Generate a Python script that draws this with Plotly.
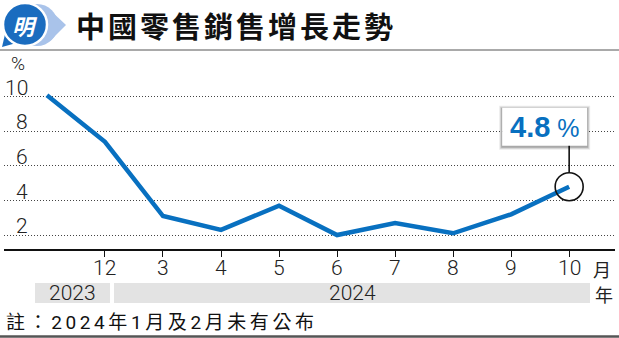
import plotly.graph_objects as go

# ---- data ----
categories = ["2023-11", "2023-12", "2024-03", "2024-04", "2024-05",
              "2024-06", "2024-07", "2024-08", "2024-09", "2024-10"]
values = [10.1, 7.4, 3.1, 2.3, 3.7, 2.0, 2.7, 2.1, 3.2, 4.8]
tick_cats = categories[1:]
tick_labels = ["12", "3", "4", "5", "6", "7", "8", "9", "10"]
y_ticks = [2, 4, 6, 8, 10]
years = ["2023", "2024"]
title = "中國零售銷售增長走勢"
note = "註：2024年1月及2月未有公布"

W, H = 619, 338
L, R, T, B = 4, 4, 60, 89
PW = W - L - R
PH = H - T - B
NUM_FONT = "Roboto, Liberation Sans, sans-serif"
CJK_FONT = "Noto Sans CJK TC, Noto Sans CJK SC, sans-serif"
MIX_FONT = "Roboto, Noto Sans CJK TC, sans-serif"
BLUE = "#0870c0"


def px(x):
    return (x - L) / PW


def py(y):
    return (H - B - y) / PH


def numfont(size, color="#222"):
    return dict(family=NUM_FONT, size=size, color=color, weight=300)


fig = go.Figure()
fig.add_trace(go.Scatter(x=categories, y=values, mode="lines",
                         line=dict(color=BLUE, width=4.5), hoverinfo="skip"))

shapes = []
annotations = []

# header / footer rules
shapes.append(dict(type="line", xref="paper", yref="paper", x0=px(0), x1=px(W),
                   y0=py(50), y1=py(50), line=dict(color="#555", width=1)))
shapes.append(dict(type="line", xref="paper", yref="paper", x0=px(0), x1=px(W),
                   y0=py(336.5), y1=py(336.5), line=dict(color="#555", width=2.5)))

# logo
shapes.append(dict(type="path", xref="paper", yref="paper",
                   path="M {} {} L {} {} L {} {} L {} {} L {} {} Z".format(
                       px(30), py(5), px(50), py(10), px(66), py(25), px(50), py(41), px(30), py(45)),
                   fillcolor="#a9c3ea", line=dict(width=0)))
shapes.append(dict(type="circle", xref="paper", yref="paper",
                   x0=px(16), x1=px(58), y0=py(4), y1=py(46),
                   fillcolor="#a9c3ea", line=dict(width=0)))
shapes.append(dict(type="path", xref="paper", yref="paper",
                   path="M {} {} L {} {} L {} {} Z".format(px(6), py(30), px(2), py(47), px(20), py(42)),
                   fillcolor="#1a6cbf", line=dict(width=0)))
shapes.append(dict(type="circle", xref="paper", yref="paper",
                   x0=px(3), x1=px(47), y0=py(3), y1=py(46),
                   fillcolor="#1a6cbf", line=dict(color="white", width=2.5)))
annotations.append(dict(text="<i><b>明</b></i>", xref="paper", yref="paper",
                        x=px(25), y=py(25), showarrow=False, xanchor="center", yanchor="middle",
                        font=dict(family=CJK_FONT, size=22, color="white")))

# title
annotations.append(dict(text="<b><span style='letter-spacing:3px'>" + title + "</span></b>",
                        xref="paper", yref="paper",
                        x=px(74), y=py(25), showarrow=False, xanchor="left", yanchor="middle",
                        font=dict(family=CJK_FONT, size=29, color="#111")))

# y tick labels + unit
for v in y_ticks:
    annotations.append(dict(text=str(v), xref="paper", yref="y", x=px(30), y=v,
                            showarrow=False, xanchor="right", yanchor="middle", yshift=9,
                            font=numfont(21)))
annotations.append(dict(text="%", xref="paper", yref="paper", x=px(18), y=py(63),
                        showarrow=False, xanchor="center", yanchor="middle",
                        font=numfont(19)))

# x tick labels (placed under the axis ticks)
for c, t in zip(tick_cats, tick_labels):
    annotations.append(dict(text=t, xref="x", yref="paper", x=c, y=py(268),
                            showarrow=False, xanchor="center", yanchor="middle",
                            font=numfont(21)))

# unit labels 月 / 年
annotations.append(dict(text="月", xref="paper", yref="paper", x=px(602), y=py(269),
                        showarrow=False, xanchor="center", yanchor="middle",
                        font=dict(family=CJK_FONT, size=18, color="#222")))
annotations.append(dict(text="年", xref="paper", yref="paper", x=px(604), y=py(294),
                        showarrow=False, xanchor="center", yanchor="middle",
                        font=dict(family=CJK_FONT, size=18, color="#222")))

# year bands
bands = [(35, 110), (114, 590)]
for (x0, x1), yr in zip(bands, years):
    shapes.append(dict(type="rect", xref="paper", yref="paper", x0=px(x0), x1=px(x1),
                       y0=py(303), y1=py(283), fillcolor="#e3e3e3", line=dict(width=0)))
    annotations.append(dict(text=yr, xref="paper", yref="paper", x=px((x0 + x1) / 2), y=py(293),
                            showarrow=False, xanchor="center", yanchor="middle",
                            font=numfont(21)))

# footnote
annotations.append(dict(text="<span style='letter-spacing:3.6px'>" + note + "</span>",
                        xref="paper", yref="paper", x=px(4), y=py(322),
                        showarrow=False, xanchor="left", yanchor="middle",
                        font=dict(family=MIX_FONT, size=19, color="#111")))

# callout for the last value
xc, yc = categories[-1], values[-1]
shapes.append(dict(type="circle", xref="x", yref="y", xsizemode="pixel", ysizemode="pixel",
                   xanchor=xc, yanchor=yc, x0=-14, x1=14, y0=-14, y1=14,
                   line=dict(color="#111", width=1.6), fillcolor="rgba(0,0,0,0)"))
shapes.append(dict(type="line", xref="x", yref="y", xsizemode="pixel", ysizemode="pixel",
                   xanchor=xc, yanchor=yc, x0=0, x1=0, y0=14, y1=42,
                   line=dict(color="#111", width=1.6)))
for d, a in [(3, 0.08), (2, 0.12), (1, 0.18)]:
    shapes.append(dict(type="rect", xref="x", yref="y", xsizemode="pixel", ysizemode="pixel",
                       xanchor=xc, yanchor=yc, x0=-67 - d, x1=18 + d, y0=41 - d - 1, y1=79 + d - 1,
                       fillcolor="rgba(0,0,0,%s)" % a, line=dict(width=0)))
shapes.append(dict(type="rect", xref="x", yref="y", xsizemode="pixel", ysizemode="pixel",
                   xanchor=xc, yanchor=yc, x0=-67, x1=18, y0=41, y1=79,
                   fillcolor="white", line=dict(width=0)))
annotations.append(dict(text="<b>%.1f</b><span style='font-size:25px;font-weight:300'> %%</span>" % yc,
                        xref="x", yref="y", x=xc, y=yc, showarrow=False,
                        xanchor="center", yanchor="middle", xshift=-24, yshift=60,
                        font=dict(family="Liberation Sans, Arial, sans-serif", size=29, color=BLUE)))

fig.update_layout(
    width=W, height=H, margin=dict(l=L, r=R, t=T, b=B),
    paper_bgcolor="white", plot_bgcolor="white", showlegend=False,
    shapes=shapes, annotations=annotations,
    xaxis=dict(type="category", categoryorder="array", categoryarray=categories,
               range=[-0.74, 9.79], tickmode="array", tickvals=tick_cats, ticktext=tick_labels,
               showticklabels=False,
               ticks="outside", ticklen=6, tickcolor="#111", tickwidth=1,
               showline=True, linecolor="#111", linewidth=1.5, showgrid=False, zeroline=False,
               fixedrange=True),
    yaxis=dict(range=[1.19, 12.14], tickmode="array", tickvals=y_ticks, showticklabels=False,
               showgrid=True, gridcolor="#444", gridwidth=1, griddash="1px,2px",
               zeroline=False, showline=False, fixedrange=True),
)

fig.write_html("out.html", config={"displayModeBar": False})
